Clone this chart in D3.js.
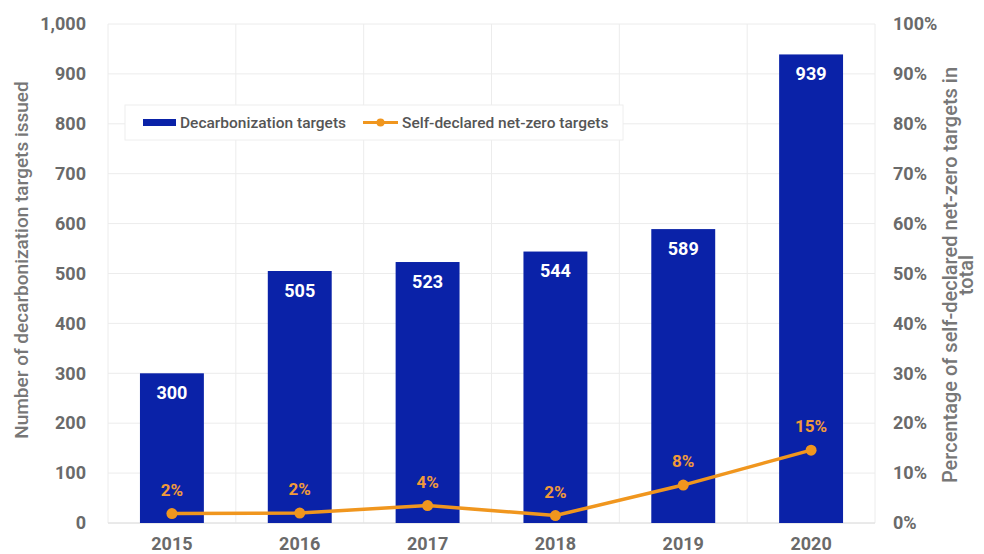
<!DOCTYPE html>
<html>
<head>
<meta charset="utf-8">
<script src="https://cdn.jsdelivr.net/npm/d3@7"></script>
<style>
  html, body { margin: 0; padding: 0; background: #fff; }
  svg { display: block; font-family: Roboto, "Noto Sans", Arial, sans-serif; }
</style>
</head>
<body>
<svg id="chart" width="984" height="554"></svg>
<script>
// Years on the category axis
const years = ["2015", "2016", "2017", "2018", "2019", "2020"];
// Number of decarbonization targets issued per year
const targets = [300, 505, 523, 544, 589, 939];
// Share of self-declared net-zero targets in the total (fraction)
const netZeroShare = [0.019, 0.02, 0.035, 0.015, 0.076, 0.146];
// Axis ticks
const leftTicks = [0, 100, 200, 300, 400, 500, 600, 700, 800, 900, 1000];
const rightTicks = [0, 0.1, 0.2, 0.3, 0.4, 0.5, 0.6, 0.7, 0.8, 0.9, 1.0];
const seriesNames = ["Decarbonization targets", "Self-declared net-zero targets"];

const BLUE = "#0a22a8";
const ORANGE = "#f0961e";
const GRID = "#ececec";
const AXIS_TEXT = "#6a6a6a";

const svg = d3.select("#chart");
const plot = { left: 108, right: 875, top: 24, bottom: 523 };

const x = d3.scaleBand()
  .domain(years)
  .range([plot.left, plot.right])
  .paddingInner(0.5)
  .paddingOuter(0.25);

const y = d3.scaleLinear().domain([0, 1000]).range([plot.bottom, plot.top]);
const y2 = d3.scaleLinear().domain([0, 1]).range([plot.bottom, plot.top]);

// Grid: horizontal at every left tick, vertical at category boundaries
const grid = svg.append("g");
grid.selectAll("line.h")
  .data(leftTicks)
  .join("line")
  .attr("x1", plot.left).attr("x2", plot.right)
  .attr("y1", d => y(d)).attr("y2", d => y(d))
  .attr("stroke", GRID).attr("stroke-width", 1);
const boundaries = d3.range(years.length + 1).map(i => plot.left + i * x.step());
grid.selectAll("line.v")
  .data(boundaries)
  .join("line")
  .attr("x1", d => d).attr("x2", d => d)
  .attr("y1", plot.top).attr("y2", plot.bottom)
  .attr("stroke", GRID).attr("stroke-width", 1);
grid.append("line")
  .attr("x1", plot.left).attr("x2", plot.right)
  .attr("y1", y(0)).attr("y2", y(0))
  .attr("stroke", "#dedede").attr("stroke-width", 1);

function styleTicks(g) {
  g.select(".domain").remove();
  g.selectAll("text")
    .attr("fill", AXIS_TEXT).style("font-size", "18px").style("font-weight", 700)
    .attr("font-family", "Roboto, sans-serif");
}

// Left axis
svg.append("g")
  .attr("transform", `translate(${plot.left - 22},0)`)
  .call(d3.axisLeft(y).tickValues(leftTicks).tickFormat(d3.format(",")).tickSize(0).tickPadding(0))
  .call(styleTicks);

// Right axis
svg.append("g")
  .attr("transform", `translate(${plot.right + 18},0)`)
  .call(d3.axisRight(y2).tickValues(rightTicks).tickFormat(d3.format(".0%")).tickSize(0).tickPadding(0))
  .call(styleTicks);

// Bottom axis
svg.append("g")
  .attr("transform", `translate(0,${plot.bottom + 14})`)
  .call(d3.axisBottom(x).tickSize(0).tickPadding(0))
  .call(styleTicks);

// Axis titles
svg.append("text")
  .attr("transform", "translate(28,260) rotate(-90)")
  .attr("text-anchor", "middle")
  .attr("fill", "#777").style("font-size", "19px").style("font-weight", 500)
  .text("Number of decarbonization targets issued");

const rightTitle = svg.append("text")
  .attr("transform", "translate(957,275) rotate(-90)")
  .attr("text-anchor", "middle")
  .attr("fill", "#777").style("font-size", "20px").style("font-weight", 500);
rightTitle.append("tspan").attr("x", 0).attr("dy", 0)
  .text("Percentage of self-declared net-zero targets in");
rightTitle.append("tspan").attr("x", 0).attr("dy", 16).text("total");

// Bars
const rows = years.map((yr, i) => ({ year: yr, count: targets[i], share: netZeroShare[i] }));
svg.append("g").selectAll("rect")
  .data(rows)
  .join("rect")
  .attr("x", d => x(d.year))
  .attr("width", x.bandwidth())
  .attr("y", d => y(d.count))
  .attr("height", d => y(0) - y(d.count))
  .attr("fill", BLUE);

// Bar value labels
svg.append("g").selectAll("text")
  .data(rows)
  .join("text")
  .attr("x", d => x(d.year) + x.bandwidth() / 2)
  .attr("y", d => y(d.count) + 19)
  .attr("text-anchor", "middle").attr("dominant-baseline", "central")
  .attr("fill", "#fff").style("font-size", "18px").style("font-weight", 700)
  .text(d => d3.format(",")(d.count));

// Net-zero share line
const cx = d => x(d.year) + x.bandwidth() / 2;
svg.append("path")
  .datum(rows)
  .attr("fill", "none")
  .attr("stroke", ORANGE).attr("stroke-width", 3.5)
  .attr("stroke-linejoin", "round")
  .attr("d", d3.line().x(cx).y(d => y2(d.share)));
svg.append("g").selectAll("circle")
  .data(rows)
  .join("circle")
  .attr("cx", cx).attr("cy", d => y2(d.share))
  .attr("r", 5.5).attr("fill", ORANGE);
svg.append("g").selectAll("text")
  .data(rows)
  .join("text")
  .attr("x", cx).attr("y", d => y2(d.share) - 24)
  .attr("text-anchor", "middle").attr("dominant-baseline", "central")
  .attr("fill", "#f09a3a").style("font-size", "17px").style("font-weight", 700)
  .text(d => d3.format(".0%")(d.share));

// Legend
const legend = svg.append("g");
legend.append("rect")
  .attr("x", 125).attr("y", 105).attr("width", 498).attr("height", 35)
  .attr("fill", "#fff").attr("stroke", "#eeeeee").attr("stroke-width", 1);
legend.append("rect")
  .attr("x", 143).attr("y", 119).attr("width", 33).attr("height", 7)
  .attr("fill", BLUE);
legend.append("text")
  .attr("x", 180).attr("y", 122.5).attr("dominant-baseline", "central")
  .attr("fill", "#555").style("font-size", "15.5px").style("font-weight", 500)
  .text(seriesNames[0]);
legend.append("line")
  .attr("x1", 363).attr("x2", 398).attr("y1", 122.5).attr("y2", 122.5)
  .attr("stroke", ORANGE).attr("stroke-width", 3);
legend.append("circle")
  .attr("cx", 380.5).attr("cy", 122.5).attr("r", 4).attr("fill", ORANGE);
legend.append("text")
  .attr("x", 402).attr("y", 122.5).attr("dominant-baseline", "central")
  .attr("fill", "#555").style("font-size", "15.5px").style("font-weight", 500)
  .text(seriesNames[1]);
</script>
</body>
</html>
